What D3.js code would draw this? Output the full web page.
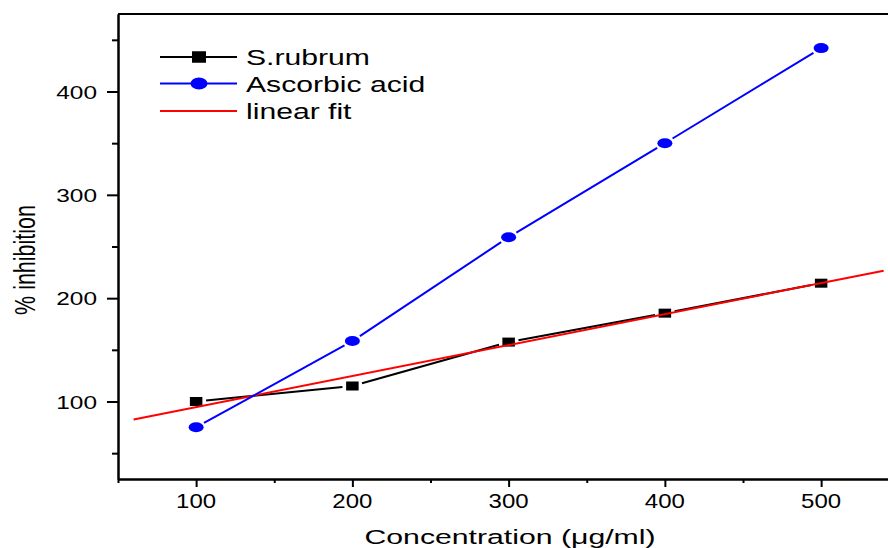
<!DOCTYPE html>
<html>
<head>
<meta charset="utf-8">
<script src="https://cdn.jsdelivr.net/npm/d3@7"></script>
<style>
  body { margin: 0; background: #fff; }
  text { font-family: "Liberation Sans", Arial, sans-serif; fill: #000; }
</style>
</head>
<body>
<script>
// data
var concentration = [100, 200, 300, 400, 500];
var srubrum = [100, 115, 157.5, 185.5, 214.5];
var ascorbic = [75, 158.5, 259, 350, 442];
var fitX = [60, 540];
var fitY = [82.6, 226.6];
var xMajor = [100, 200, 300, 400, 500];
var xMinor = [50, 150, 250, 350, 450];
var yMajor = [100, 200, 300, 400];
var yMinor = [50, 150, 250, 350, 450];
var legendNames = ["S.rubrum", "Ascorbic acid", "linear fit"];

var width = 888, height = 548;
var svg = d3.select("body").append("svg")
  .attr("width", width)
  .attr("height", height);

var x = d3.scaleLinear().domain([50, 550]).range([118, 899.25]);
var y = d3.scaleLinear().domain([25, 475]).range([479, 14]);

// stretched text, the original picture is wider than tall
function label(px, py, str, size, sx, anchor, rot) {
  return svg.append("text")
    .attr("transform", "translate(" + px + "," + py + ") scale(" + sx + ",1)" + (rot ? " rotate(-90)" : ""))
    .attr("font-size", size)
    .attr("text-anchor", anchor)
    .text(str);
}

// axes
var gx = svg.append("g").attr("transform", "translate(0," + y.range()[0] + ")");
gx.call(d3.axisBottom(x).tickValues(xMajor).tickSize(8).tickSizeOuter(0).tickFormat(""));
gx.append("g").call(d3.axisBottom(x).tickValues(xMinor).tickSize(4).tickSizeOuter(0).tickFormat(""));
var gy = svg.append("g").attr("transform", "translate(" + x.range()[0] + ",0)");
gy.call(d3.axisLeft(y).tickValues(yMajor).tickSize(11).tickSizeOuter(0).tickFormat(""));
gy.append("g").call(d3.axisLeft(y).tickValues(yMinor).tickSize(6).tickSizeOuter(0).tickFormat(""));
svg.selectAll(".domain, .tick line").attr("stroke", "#000").attr("stroke-width", 2);

// top frame line
svg.append("line")
  .attr("x1", x(50)).attr("x2", x(550))
  .attr("y1", y(475)).attr("y2", y(475))
  .attr("stroke", "#000").attr("stroke-width", 2);

xMajor.forEach(function (d) { label(x(d), 508, d, 20, 1.2, "middle"); });
yMajor.forEach(function (d) { label(97, y(d) + 7, d, 18.5, 1.32, "end"); });

label(510, 544, "Concentration (\u03bcg/ml)", 19.5, 1.55, "middle");
label(35, 260, "% inhibition", 21.5, 1.4, "middle", true);

// connecting lines that stop short of the markers
function gapSegments(xs, ys, g) {
  var segs = [];
  for (var i = 0; i < xs.length - 1; i++) {
    var x1 = x(xs[i]), y1 = y(ys[i]), x2 = x(xs[i + 1]), y2 = y(ys[i + 1]);
    var len = Math.sqrt((x2 - x1) * (x2 - x1) + (y2 - y1) * (y2 - y1));
    var ux = (x2 - x1) / len, uy = (y2 - y1) / len;
    segs.push([x1 + ux * g, y1 + uy * g, x2 - ux * g, y2 - uy * g]);
  }
  return segs;
}

function drawSegs(segs, color) {
  svg.append("g").selectAll("line")
    .data(segs)
    .enter()
    .append("line")
      .attr("x1", function (d) { return d[0]; })
      .attr("y1", function (d) { return d[1]; })
      .attr("x2", function (d) { return d[2]; })
      .attr("y2", function (d) { return d[3]; })
      .attr("stroke", color)
      .attr("stroke-width", 2);
}

// S.rubrum
drawSegs(gapSegments(concentration, srubrum, 10), "#000");
svg.append("g").selectAll("rect")
  .data(srubrum)
  .enter()
  .append("rect")
    .attr("x", function (d, i) { return x(concentration[i]) - 6.25; })
    .attr("y", function (d) { return y(d) - 4.5; })
    .attr("width", 12.5)
    .attr("height", 9)
    .attr("fill", "#000");

// linear fit
svg.append("line")
  .attr("x1", x(fitX[0])).attr("y1", y(fitY[0]))
  .attr("x2", x(fitX[1])).attr("y2", y(fitY[1]))
  .attr("stroke", "#ff0000")
  .attr("stroke-width", 2);

// Ascorbic acid
drawSegs(gapSegments(concentration, ascorbic, 9), "#0000ff");
svg.append("g").selectAll("ellipse")
  .data(ascorbic)
  .enter()
  .append("ellipse")
    .attr("cx", function (d, i) { return x(concentration[i]); })
    .attr("cy", function (d) { return y(d); })
    .attr("rx", 7.5)
    .attr("ry", 5)
    .attr("fill", "#0000ff");

// legend
var legendColors = ["#000", "#0000ff", "#ff0000"];
var legendY = [57, 83.5, 111];
legendNames.forEach(function (name, i) {
  svg.append("line")
    .attr("x1", 160).attr("x2", 237)
    .attr("y1", legendY[i]).attr("y2", legendY[i])
    .attr("stroke", legendColors[i])
    .attr("stroke-width", 2);
  if (i == 0) {
    svg.append("rect")
      .attr("x", 199 - 7).attr("y", legendY[i] - 5.75)
      .attr("width", 14).attr("height", 11.5)
      .attr("fill", "#000");
  }
  if (i == 1) {
    svg.append("ellipse")
      .attr("cx", 199).attr("cy", legendY[i])
      .attr("rx", 8.5).attr("ry", 6)
      .attr("fill", "#0000ff");
  }
  label(246, legendY[i] + 8, name, 22, 1.37, "start");
});
</script>
</body>
</html>
